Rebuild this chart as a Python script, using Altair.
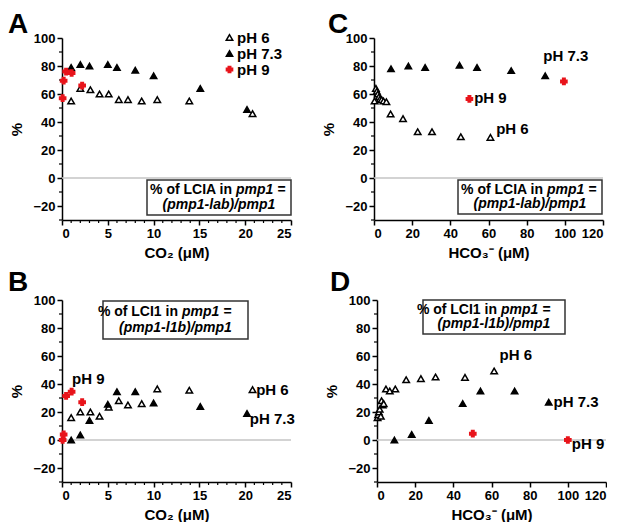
import altair as alt
import pandas as pd

FONT = "Liberation Sans"
W, H = 229, 182
RED = "#e8141b"

SERIES = ["pH 6", "pH 7.3", "pH 9"]

# ---------- Panel A (CO2, LCIA) ----------
a6_x = [1.0, 2.0, 3.1, 4.1, 5.1, 6.2, 7.2, 8.7, 10.4, 13.9, 20.8]
a6_y = [55, 64, 63, 60, 60, 56, 56, 55, 56, 55, 46]
a73_x = [1.0, 2.0, 3.0, 5.0, 6.0, 8.0, 10.0, 15.1, 20.2]
a73_y = [79, 81, 80, 81, 79, 77, 73, 64, 49]
a9_x = [0.07, 0.18, 0.45, 1.05, 2.2]
a9_y = [57, 69.5, 76, 75, 66]

# ---------- Panel B (CO2, LCI1) ----------
b6_x = [1.0, 2.0, 3.1, 4.1, 5.1, 6.2, 7.2, 8.7, 10.4, 13.9, 20.8]
b6_y = [16, 20, 20, 17, 23.5, 28, 25, 26, 36.5, 35.5, 36]
b73_x = [1.0, 2.0, 3.0, 5.0, 6.0, 8.0, 10.0, 15.1, 20.2]
b73_y = [0, 3.6, 14, 25.5, 34.5, 34.5, 26.5, 24, 19]
b9_x = [0.07, 0.18, 0.45, 1.05, 2.2]
b9_y = [0, 4, 31.5, 34.5, 27]

# ---------- Panel C (HCO3-, LCIA) ----------
c6_x = [0.3, 1.0, 1.5, 2.0, 2.6, 3.2, 4.0, 5.0, 6.5, 8.7, 15.2, 22.9, 30.4, 45.5, 61.0]
c6_y = [55, 64, 62, 60, 58, 56.5, 56, 55, 54.5, 45.7, 42.4, 33, 33, 29.5, 29]
c73_x = [8.9, 18, 26.8, 44.8, 54, 71.9, 89.7]
c73_y = [78, 80, 79, 80.5, 79, 76.7, 73]
c9_x = [50, 99.5]
c9_y = [56.5, 69]

# ---------- Panel D (HCO3-, LCI1) ----------
d6_x = [0.3, 0.6, 1.0, 1.4, 2.0, 2.4, 3.0, 3.5, 4.7, 6.7, 9.6, 15.3, 23.0, 30.7, 46.1, 61.4]
d6_y = [16, 18, 20, 22, 17, 28, 25, 26, 36.4, 35, 36.4, 43, 43.8, 45, 44.7, 49.3]
d73_x = [9.1, 18.2, 27.2, 44.9, 54.2, 72.1, 90]
d73_y = [0, 4, 14, 26, 35, 35, 27]
d9_x = [50.2, 100]
d9_y = [4.5, 0]

# annotation labels (text, x, y) in data units
c_labels = ["pH 7.3", "pH 9", "pH 6"]
c_lab_x = [88.7, 52.5, 64]
c_lab_y = [87, 57.4, 35]
b_labels = ["pH 9", "pH 6", "pH 7.3"]
b_lab_x = [1.1, 21.2, 20.5]
b_lab_y = [43.3, 35.4, 14.7]
d_labels = ["pH 6", "pH 7.3", "pH 9"]
d_lab_x = [64.2, 92.5, 102.1]
d_lab_y = [60.5, 27.1, -3]

co2_ticks = [0, 5, 10, 15, 20, 25]
hco3_ticks = [0, 20, 40, 60, 80, 100, 120]
y_ticks = [-20, 0, 20, 40, 60, 80, 100]
y_minor = [-30, -10, 10, 30, 50, 70, 90]
co2_minor = [v for v in range(1, 25) if v % 5 != 0]
marker_sizes = [42, 38, 24]


def make_panel(letter, letter_pos, xdomain, xticks, xminor, xtitle,
               s6, s73, s9, labels, box, line1, line2, junction, legend):
    xs = alt.Scale(domain=xdomain, nice=False, zero=False)
    ys = alt.Scale(domain=[-30, 100], nice=False, zero=False)
    xaxis = alt.Axis(values=xticks, title=xtitle, format="d")
    yaxis = alt.Axis(values=y_ticks, title="%", format="d")

    df = pd.concat([
        pd.DataFrame({"x": s6[0], "y": s6[1], "series": "pH 6"}),
        pd.DataFrame({"x": s73[0], "y": s73[1], "series": "pH 7.3"}),
        pd.DataFrame({"x": s9[0], "y": s9[1], "series": "pH 9"}),
    ], ignore_index=True)

    zero = alt.Chart(pd.DataFrame({"y": [0]})).mark_rule(
        color="#c4c4c4", strokeWidth=1.5
    ).encode(y=alt.Y("y:Q", scale=ys, axis=yaxis), x=alt.value(0), x2=alt.value(W))

    leg = alt.Legend(
        orient="none", legendX=160, legendY=-8, title=None,
        labelFont=FONT, labelFontSize=15, labelFontWeight="bold", labelColor="black",
        symbolStrokeWidth=1.5, rowPadding=0, labelOffset=0, padding=0,
    ) if legend else None

    pts = alt.Chart(df).mark_point(filled=True, strokeWidth=1.5, opacity=1).encode(
        x=alt.X("x:Q", scale=xs, axis=xaxis),
        y=alt.Y("y:Q", scale=ys, axis=yaxis),
        fill=alt.Fill("series:N", scale=alt.Scale(domain=SERIES, range=["white", "black", RED]), legend=leg),
        stroke=alt.Stroke("series:N", scale=alt.Scale(domain=SERIES, range=["black", "black", RED]), legend=leg),
        shape=alt.Shape("series:N", scale=alt.Scale(domain=SERIES, range=["triangle-up", "triangle-up", "cross"]), legend=leg),
        size=alt.Size("series:N", scale=alt.Scale(domain=SERIES, range=marker_sizes), legend=leg),
    )

    layers = [zero]

    ymin = alt.Chart(pd.DataFrame({"v": y_minor})).mark_rule(color="black", strokeWidth=1.2).encode(
        y=alt.Y("v:Q", scale=ys, axis=yaxis), x=alt.value(-3), x2=alt.value(0))
    layers.append(ymin)
    if xminor:
        xmin = alt.Chart(pd.DataFrame({"v": xminor})).mark_rule(color="black", strokeWidth=1.2).encode(
            x=alt.X("v:Q", scale=xs, axis=xaxis), y=alt.value(H), y2=alt.value(H + 3))
        layers.append(xmin)

    layers.append(pts)

    if labels is not None:
        ldf = pd.DataFrame({"label": labels[0], "x": labels[1], "y": labels[2]})
        lab = alt.Chart(ldf).mark_text(
            align="left", baseline="middle", font=FONT, fontSize=15, fontWeight="bold", color="black"
        ).encode(x=alt.X("x:Q", scale=xs, axis=xaxis), y=alt.Y("y:Q", scale=ys, axis=yaxis), text="label:N")
        layers.append(lab)

    one = pd.DataFrame({"k": [0]})
    bx0, bx1, by0, by1 = box
    rect = alt.Chart(one).mark_rect(fill="white", stroke="#333333", strokeWidth=1.5).encode(
        x=alt.value(bx0), x2=alt.value(bx1), y=alt.value(by0), y2=alt.value(by1))
    cy1 = by0 + (by1 - by0) * 0.29
    cy2 = by0 + (by1 - by0) * 0.72
    t1a = alt.Chart(one).mark_text(
        text=line1[0], align="right", baseline="middle", font=FONT, fontSize=14, fontWeight="bold", color="black"
    ).encode(x=alt.value(junction - 1), y=alt.value(cy1))
    t1b = alt.Chart(one).mark_text(
        text=line1[1], align="left", baseline="middle", font=FONT, fontSize=14, fontWeight="bold",
        fontStyle="italic", color="black"
    ).encode(x=alt.value(junction + 3), y=alt.value(cy1))
    t2 = alt.Chart(one).mark_text(
        text=line2, align="center", baseline="middle", font=FONT, fontSize=14, fontWeight="bold",
        fontStyle="italic", color="black"
    ).encode(x=alt.value((bx0 + bx1) / 2), y=alt.value(cy2))
    layers += [rect, t1a, t1b, t2]

    lt = alt.Chart(one).mark_text(
        text=letter, align="left", baseline="alphabetic", font=FONT, fontSize=28, fontWeight="bold", color="black"
    ).encode(x=alt.value(letter_pos[0]), y=alt.value(letter_pos[1]))
    layers.append(lt)

    return alt.layer(*layers).properties(width=W, height=H)


pA = make_panel("A", (-54, -5), [0, 25], co2_ticks, co2_minor, "CO₂ (μM)",
                (a6_x, a6_y), (a73_x, a73_y), (a9_x, a9_y), None,
                (85, 229, 142, 177), ("% of LCIA in", "pmp1 ="), "(pmp1-lab)/pmp1", 171, True)
pC = make_panel("C", (-46, -5), [0, 120], hco3_ticks, None, "HCO₃⁻ (μM)",
                (c6_x, c6_y), (c73_x, c73_y), (c9_x, c9_y), (c_labels, c_lab_x, c_lab_y),
                (84, 228, 142, 176), ("% of LCIA in", "pmp1 ="), "(pmp1-lab)/pmp1", 170, False)
pB = make_panel("B", (-54, -9), [0, 25], co2_ticks, co2_minor, "CO₂ (μM)",
                (b6_x, b6_y), (b73_x, b73_y), (b9_x, b9_y), (b_labels, b_lab_x, b_lab_y),
                (41, 186, 1, 39), ("% of LCI1 in", "pmp1 ="), "(pmp1-l1b)/pmp1", 117, False)
pD = make_panel("D", (-47, -9), [0, 120], hco3_ticks, None, "HCO₃⁻ (μM)",
                (d6_x, d6_y), (d73_x, d73_y), (d9_x, d9_y), (d_labels, d_lab_x, d_lab_y),
                (46, 188, 0, 34), ("% of LCI1 in", "pmp1 ="), "(pmp1-l1b)/pmp1", 121, False)

res = dict(fill="independent", stroke="independent", shape="independent", size="independent")
row1 = alt.hconcat(pA, pC, spacing=29).resolve_scale(**res)
row2 = alt.hconcat(pB, pD, spacing=29).resolve_scale(**res)
chart = alt.vconcat(row1, row2, spacing=9).resolve_scale(**res).properties(
    padding={"left": 0, "top": 3, "right": 0, "bottom": 0}
).configure_view(stroke=None).configure_axis(
    labelFont=FONT, labelFontSize=13, labelFontWeight="bold", labelColor="black",
    titleFont=FONT, titleFontSize=15, titleFontWeight="bold", titleColor="black",
    domainColor="black", domainWidth=1.5, tickColor="black", tickWidth=1.5, tickSize=5,
    labelPadding=2, grid=False,
).configure_axisY(titlePadding=8).configure_axisX(titlePadding=5)

chart.save("out.html", embed_options={"renderer": "svg", "actions": False})
